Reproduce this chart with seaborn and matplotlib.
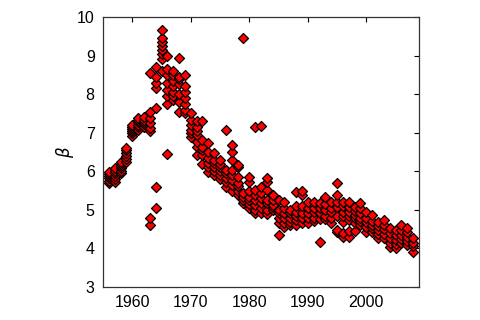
import matplotlib
matplotlib.use("Agg")
import matplotlib.pyplot as plt
import seaborn as sns
import pandas as pd

# ---- data: beta values per year ----
years_1950s = [1956, 1957, 1958, 1959]
beta_1950s = [
    [5.70, 5.76, 5.82, 5.88, 5.93, 5.98],
    [5.72, 5.80, 5.88, 5.95, 6.02, 6.08],
    [5.95, 6.02, 6.08, 6.14, 6.20, 6.25],
    [6.25, 6.33, 6.40, 6.47, 6.54, 6.61],
]
years_1960s = [1960, 1961, 1962, 1963, 1964, 1965, 1966, 1967, 1968, 1969]
beta_1960s = [
    [6.92, 6.98, 7.04, 7.10, 7.15, 7.20],
    [7.06, 7.14, 7.20, 7.27, 7.33, 7.38],
    [7.16, 7.22, 7.28, 7.34, 7.40],
    [4.60, 4.80, 7.05, 7.12, 7.25, 7.38, 7.55, 8.55],
    [5.05, 5.60, 7.65, 8.15, 8.30, 8.45, 8.70],
    [8.60, 8.90, 9.05, 9.15, 9.25, 9.35, 9.45, 9.65],
    [6.45, 7.75, 7.95, 8.10, 8.30, 8.50, 8.65, 9.00],
    [7.85, 7.95, 8.05, 8.20, 8.35, 8.50, 8.60],
    [7.55, 7.80, 8.00, 8.25, 8.40, 8.45, 8.95],
    [7.50, 7.60, 7.75, 7.90, 8.05, 8.20, 8.50],
]
years_1970s = [1970, 1971, 1972, 1973, 1974, 1975, 1976, 1977, 1978, 1979]
beta_1970s = [
    [6.90, 7.00, 7.07, 7.20, 7.33, 7.50],
    [6.42, 6.63, 6.76, 6.94, 7.05, 7.15, 7.30],
    [6.20, 6.42, 6.55, 6.63, 6.81, 7.30],
    [5.98, 6.10, 6.21, 6.35, 6.50, 6.73],
    [5.90, 6.00, 6.11, 6.22, 6.30, 6.47],
    [5.80, 5.90, 6.00, 6.10, 6.20, 6.30],
    [5.60, 5.72, 5.83, 5.95, 6.03, 7.07],
    [5.50, 5.65, 5.77, 5.90, 6.03, 6.30, 6.50, 6.68],
    [5.38, 5.50, 5.62, 5.70, 5.85, 6.10, 6.16],
    [5.18, 5.26, 5.33, 5.44, 9.45],
]
years_1980s = [1980, 1981, 1982, 1983, 1984, 1985, 1986, 1987, 1988, 1989]
beta_1980s = [
    [5.05, 5.15, 5.25, 5.33, 5.50, 5.72, 5.85],
    [4.92, 5.00, 5.13, 5.26, 5.38, 5.51, 7.15],
    [4.92, 5.05, 5.18, 5.30, 5.44, 5.60, 7.17],
    [4.90, 5.00, 5.18, 5.25, 5.51, 5.72, 5.82],
    [5.00, 5.08, 5.13, 5.25, 5.38],
    [4.35, 4.66, 4.80, 4.92, 5.00, 5.25],
    [4.56, 4.66, 4.80, 4.92, 5.05, 5.20],
    [4.60, 4.69, 4.80, 4.92, 5.00],
    [4.60, 4.74, 4.85, 4.95, 5.10, 5.46],
    [4.66, 4.78, 4.92, 5.10, 5.38, 5.50],
]
years_1990s = [1990, 1991, 1992, 1993, 1994, 1995, 1996, 1997, 1998, 1999]
beta_1990s = [
    [4.66, 4.80, 4.92, 5.05, 5.20],
    [4.72, 4.80, 4.95, 5.05, 5.20],
    [4.17, 4.75, 4.92, 5.05, 5.18],
    [4.75, 4.85, 5.00, 5.15, 5.33],
    [4.66, 4.80, 4.95, 5.05, 5.20],
    [4.43, 4.48, 4.85, 5.08, 5.20, 5.38, 5.69],
    [4.30, 4.40, 4.69, 4.85, 4.95, 5.10, 5.20],
    [4.30, 4.45, 4.74, 4.85, 4.95, 5.08, 5.20],
    [4.45, 4.66, 4.78, 4.87, 4.98, 5.08],
    [4.60, 4.70, 4.80, 4.92, 5.05, 5.18],
]
years_2000s = [2000, 2001, 2002, 2003, 2004, 2005, 2006, 2007, 2008]
beta_2000s = [
    [4.43, 4.55, 4.69, 4.80, 4.95],
    [4.43, 4.52, 4.60, 4.72, 4.87],
    [4.27, 4.38, 4.48, 4.58, 4.69],
    [4.27, 4.38, 4.50, 4.62, 4.74],
    [4.04, 4.15, 4.27, 4.40, 4.53],
    [4.00, 4.12, 4.22, 4.35, 4.48],
    [4.14, 4.25, 4.35, 4.48, 4.60],
    [4.10, 4.20, 4.30, 4.42, 4.53],
    [3.92, 4.05, 4.15, 4.27],
]

x_ticks = [1960, 1970, 1980, 1990, 2000]
y_ticks = [3, 4, 5, 6, 7, 8, 9, 10]

rows = []
for yrs, bts in [(years_1950s, beta_1950s), (years_1960s, beta_1960s),
                 (years_1970s, beta_1970s), (years_1980s, beta_1980s),
                 (years_1990s, beta_1990s), (years_2000s, beta_2000s)]:
    for yr, vals in zip(yrs, bts):
        for v in vals:
            rows.append({"year": yr, "beta": v})
df = pd.DataFrame(rows)

sns.set_theme(style="white")
plt.rcParams["font.family"] = ["Liberation Sans", "DejaVu Sans"]
plt.rcParams["text.color"] = "black"
plt.rcParams["xtick.color"] = "black"
plt.rcParams["ytick.color"] = "black"
plt.rcParams["axes.labelcolor"] = "black"

fig = plt.figure(figsize=(4.8, 3.2), dpi=100)
ax = fig.add_axes([103 / 480, 1 - 287 / 320, (419 - 103) / 480, (287 - 17) / 320])

sns.scatterplot(data=df, x="year", y="beta", marker="D", s=26,
                color="#ff0000", edgecolor="black", linewidth=0.9, ax=ax,
                legend=False)

ax.set_xlim(1955, 2009)
ax.set_ylim(3, 10)
ax.set_xticks(x_ticks)
ax.set_yticks(y_ticks)
ax.set_xlabel("")
ax.set_ylabel(r"$\beta$", fontsize=12, labelpad=1)
ax.tick_params(direction="in", length=3.5, width=0.8, colors="black",
               top=True, right=True, labelsize=11.5, pad=6)
for sp in ax.spines.values():
    sp.set_color("#333333")
    sp.set_linewidth(0.9)

fig.savefig("out.png", dpi=100)
